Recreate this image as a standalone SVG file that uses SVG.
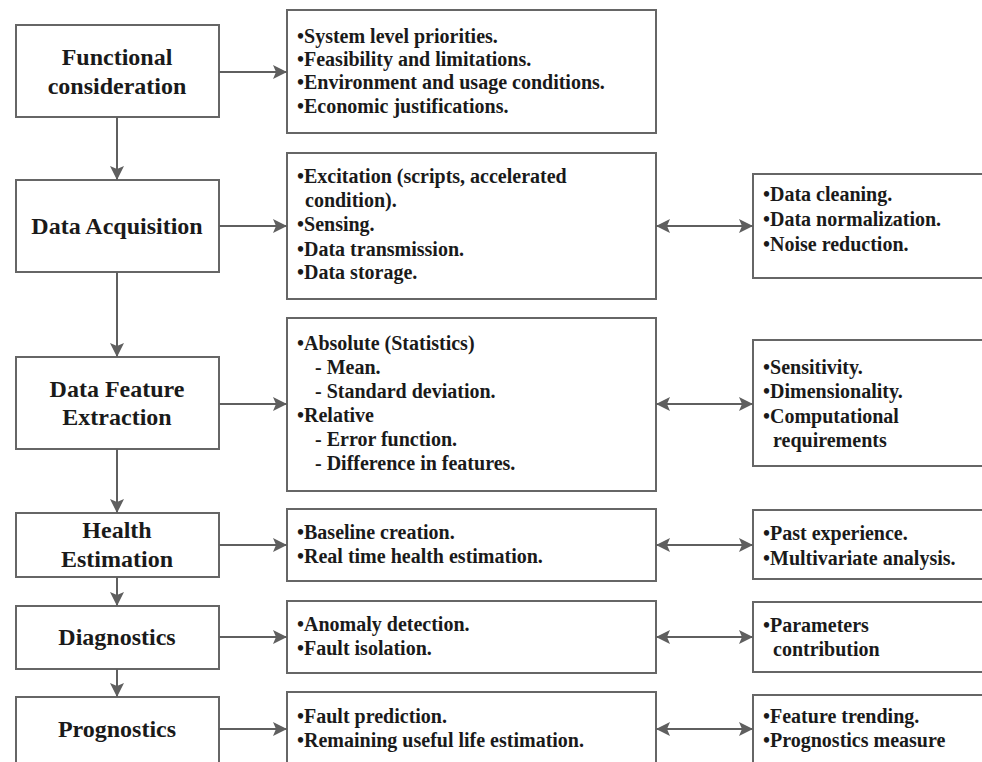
<svg xmlns="http://www.w3.org/2000/svg" width="982" height="762" viewBox="0 0 982 762">
  <style>
    .box { fill: #ffffff; stroke: #666666; stroke-width: 2; }
    .title { font-family: 'Liberation Serif', 'DejaVu Serif', serif; font-weight: 700; font-size: 24px; fill: #1a1a1a; text-anchor: middle; }
    .item { font-family: 'Liberation Serif', 'DejaVu Serif', serif; font-weight: 700; font-size: 20px; fill: #1a1a1a; }
    .link { stroke: #5f5f5f; stroke-width: 2; fill: none; }
  </style>
  <defs>
    <marker id="arrow" markerUnits="userSpaceOnUse" markerWidth="16" markerHeight="14" refX="14" refY="7" orient="auto-start-reverse">
      <path d="M0,0 L14,7 L0,14 L3,7 Z" fill="#5f5f5f"/>
    </marker>
  </defs>
  <rect width="982" height="762" fill="#ffffff"/>

  <!-- process stages (left column) -->
  <g id="functional">
    <rect class="box" x="16" y="25" width="203" height="92"/>
    <text class="title" x="117" y="65">Functional</text>
    <text class="title" x="117" y="94">consideration</text>
  </g>
  <g id="acquisition">
    <rect class="box" x="16" y="180" width="203" height="92"/>
    <text class="title" x="117" y="234">Data Acquisition</text>
  </g>
  <g id="feature-extraction">
    <rect class="box" x="16" y="357" width="203" height="92"/>
    <text class="title" x="117" y="397">Data Feature</text>
    <text class="title" x="117" y="425">Extraction</text>
  </g>
  <g id="health">
    <rect class="box" x="16" y="513" width="203" height="64"/>
    <text class="title" x="117" y="538">Health</text>
    <text class="title" x="117" y="567">Estimation</text>
  </g>
  <g id="diagnostics">
    <rect class="box" x="16" y="606" width="203" height="63"/>
    <text class="title" x="117" y="645">Diagnostics</text>
  </g>
  <g id="prognostics">
    <rect class="box" x="16" y="697" width="203" height="80"/>
    <text class="title" x="117" y="737">Prognostics</text>
  </g>

  <!-- stage details (middle column) -->
  <g id="functional-details">
    <rect class="box" x="287" y="10" width="369" height="123"/>
    <text class="item" x="297" y="43">•System level priorities.</text>
    <text class="item" x="297" y="66">•Feasibility and limitations.</text>
    <text class="item" x="297" y="89">•Environment and usage conditions.</text>
    <text class="item" x="297" y="113">•Economic justifications.</text>
  </g>
  <g id="acquisition-details">
    <rect class="box" x="287" y="153" width="369" height="146"/>
    <text class="item" x="297" y="183">•Excitation (scripts, accelerated</text>
    <text class="item" x="305" y="207">condition).</text>
    <text class="item" x="297" y="231">•Sensing.</text>
    <text class="item" x="297" y="256">•Data transmission.</text>
    <text class="item" x="297" y="279">•Data storage.</text>
  </g>
  <g id="feature-details">
    <rect class="box" x="287" y="318" width="369" height="173"/>
    <text class="item" x="297" y="350">•Absolute (Statistics)</text>
    <text class="item" x="315" y="374">- Mean.</text>
    <text class="item" x="315" y="398">- Standard deviation.</text>
    <text class="item" x="297" y="422">•Relative</text>
    <text class="item" x="315" y="446">- Error function.</text>
    <text class="item" x="315" y="470">- Difference in features.</text>
  </g>
  <g id="health-details">
    <rect class="box" x="287" y="509" width="369" height="72"/>
    <text class="item" x="297" y="539">•Baseline creation.</text>
    <text class="item" x="297" y="563">•Real time health estimation.</text>
  </g>
  <g id="diagnostics-details">
    <rect class="box" x="287" y="601" width="369" height="72"/>
    <text class="item" x="297" y="631">•Anomaly detection.</text>
    <text class="item" x="297" y="655">•Fault isolation.</text>
  </g>
  <g id="prognostics-details">
    <rect class="box" x="287" y="692" width="369" height="85"/>
    <text class="item" x="297" y="723">•Fault prediction.</text>
    <text class="item" x="297" y="747">•Remaining useful life estimation.</text>
  </g>

  <!-- supporting considerations (right column) -->
  <g id="preprocessing">
    <rect class="box" x="753" y="174" width="240" height="104"/>
    <text class="item" x="763" y="201">•Data cleaning.</text>
    <text class="item" x="763" y="226">•Data normalization.</text>
    <text class="item" x="763" y="251">•Noise reduction.</text>
  </g>
  <g id="feature-criteria">
    <rect class="box" x="753" y="340" width="240" height="126"/>
    <text class="item" x="763" y="374">•Sensitivity.</text>
    <text class="item" x="763" y="398">•Dimensionality.</text>
    <text class="item" x="763" y="423">•Computational</text>
    <text class="item" x="773" y="447">requirements</text>
  </g>
  <g id="health-support">
    <rect class="box" x="753" y="510" width="240" height="69"/>
    <text class="item" x="763" y="540">•Past experience.</text>
    <text class="item" x="763" y="565">•Multivariate analysis.</text>
  </g>
  <g id="diagnostics-support">
    <rect class="box" x="753" y="602" width="240" height="70"/>
    <text class="item" x="763" y="632">•Parameters</text>
    <text class="item" x="773" y="656">contribution</text>
  </g>
  <g id="prognostics-support">
    <rect class="box" x="753" y="695" width="240" height="82"/>
    <text class="item" x="763" y="723">•Feature trending.</text>
    <text class="item" x="763" y="747">•Prognostics measure</text>
  </g>

  <!-- connectors -->
  <g id="connectors">
    <!-- stage flow -->
    <line class="link" x1="117" y1="117" x2="117" y2="180" marker-end="url(#arrow)"/>
    <line class="link" x1="117" y1="272" x2="117" y2="357" marker-end="url(#arrow)"/>
    <line class="link" x1="117" y1="449" x2="117" y2="513" marker-end="url(#arrow)"/>
    <line class="link" x1="117" y1="577" x2="117" y2="606" marker-end="url(#arrow)"/>
    <line class="link" x1="117" y1="669" x2="117" y2="697" marker-end="url(#arrow)"/>
    <!-- stage to details -->
    <line class="link" x1="219" y1="72" x2="287" y2="72" marker-end="url(#arrow)"/>
    <line class="link" x1="219" y1="226" x2="287" y2="226" marker-end="url(#arrow)"/>
    <line class="link" x1="219" y1="404" x2="287" y2="404" marker-end="url(#arrow)"/>
    <line class="link" x1="219" y1="545" x2="287" y2="545" marker-end="url(#arrow)"/>
    <line class="link" x1="219" y1="637" x2="287" y2="637" marker-end="url(#arrow)"/>
    <line class="link" x1="219" y1="729" x2="287" y2="729" marker-end="url(#arrow)"/>
    <!-- details to support (two-way) -->
    <line class="link" x1="656" y1="226" x2="753" y2="226" marker-start="url(#arrow)" marker-end="url(#arrow)"/>
    <line class="link" x1="656" y1="404" x2="753" y2="404" marker-start="url(#arrow)" marker-end="url(#arrow)"/>
    <line class="link" x1="656" y1="545" x2="753" y2="545" marker-start="url(#arrow)" marker-end="url(#arrow)"/>
    <line class="link" x1="656" y1="637" x2="753" y2="637" marker-start="url(#arrow)" marker-end="url(#arrow)"/>
    <line class="link" x1="656" y1="729" x2="753" y2="729" marker-start="url(#arrow)" marker-end="url(#arrow)"/>
  </g>
</svg>
